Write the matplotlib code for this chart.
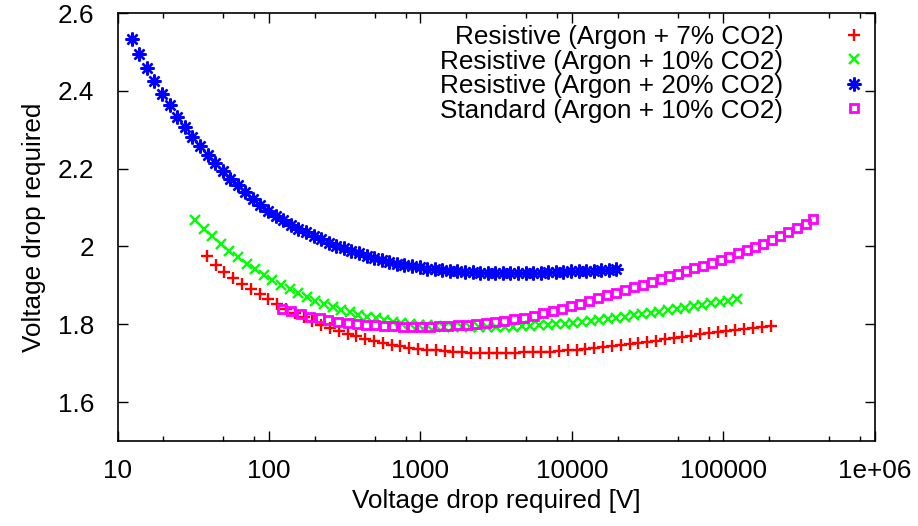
import matplotlib
matplotlib.use("Agg")
import matplotlib.pyplot as plt
from matplotlib.ticker import FixedLocator, FixedFormatter, NullFormatter

plt.rcParams['font.family'] = ['Liberation Sans', 'DejaVu Sans']
plt.rcParams['font.size'] = 18.8

# Resistive (Argon + 7% CO2)
res7_x = [38.8, 44.4, 50.7, 58.0, 66.3, 75.8, 86.6, 99.0, 113.2, 129.4,
          148.0, 169.2, 193.4, 221.1, 252.8, 289.0, 330.5, 377.8, 432.0, 493.9,
          564.7, 645.6, 738.1, 843.9, 964.8, 1103, 1261, 1442, 1649, 1885,
          2155, 2464, 2817, 3221, 3682, 4210, 4813, 5503, 6292, 7193,
          8224, 9403, 10750, 12290, 14050, 16070, 18370, 21000, 24010, 27450,
          31390, 35890, 41030, 46910, 53630, 61320, 70110, 80150, 91640, 104800,
          119800, 137000, 156600, 179000, 204700]
res7_y = [1.975, 1.953, 1.935, 1.919, 1.904, 1.890, 1.877, 1.864, 1.851, 1.839,
          1.828, 1.818, 1.808, 1.799, 1.791, 1.783, 1.776, 1.769, 1.763, 1.758,
          1.753, 1.748, 1.744, 1.740, 1.737, 1.735, 1.733, 1.731, 1.729, 1.728,
          1.727, 1.727, 1.727, 1.727, 1.727, 1.727, 1.728, 1.728, 1.729, 1.730,
          1.731, 1.733, 1.734, 1.736, 1.738, 1.741, 1.743, 1.746, 1.749, 1.752,
          1.755, 1.758, 1.761, 1.764, 1.767, 1.771, 1.774, 1.777, 1.780, 1.783,
          1.786, 1.789, 1.791, 1.793, 1.796]

# Resistive (Argon + 10% CO2)
res10_x = [32.5, 37.0, 42.2, 48.1, 54.8, 62.5, 71.2, 81.2, 92.5, 105.5,
           120.0, 136.8, 155.9, 177.7, 202.6, 230.9, 263.2, 300.0, 341.9, 389.7,
           443.6, 505.6, 576.3, 656.9, 748.7, 853.4, 972.7, 1109, 1264, 1440,
           1640, 1869, 2131, 2429, 2768, 3155, 3597, 4099, 4673, 5326,
           6061, 6909, 7875, 8976, 10230, 11660, 13290, 15150, 17270, 19680,
           22390, 25520, 29090, 33160, 37800, 43080, 49100, 55970, 63800, 72720,
           82750, 94320, 107500, 122500]
res10_y = [2.068, 2.046, 2.026, 2.007, 1.989, 1.972, 1.956, 1.941, 1.927, 1.914,
           1.902, 1.891, 1.880, 1.870, 1.861, 1.852, 1.844, 1.837, 1.831, 1.825,
           1.820, 1.815, 1.811, 1.807, 1.804, 1.801, 1.799, 1.797, 1.795, 1.794,
           1.793, 1.793, 1.792, 1.792, 1.792, 1.793, 1.793, 1.794, 1.795, 1.796,
           1.797, 1.799, 1.800, 1.802, 1.804, 1.806, 1.809, 1.811, 1.814, 1.817,
           1.820, 1.823, 1.826, 1.829, 1.832, 1.836, 1.839, 1.843, 1.846, 1.850,
           1.854, 1.857, 1.861, 1.865]

# Resistive (Argon + 20% CO2)
res20_x = [12.4, 13.9, 15.6, 17.5, 19.7, 22.1, 24.8, 27.8, 31.2, 35.0,
           39.3, 44.1, 49.4, 55.5, 62.2, 69.8, 78.3, 87.9, 98.6, 111,
           124, 139, 156, 175, 197, 221, 248, 278, 312, 350,
           393, 441, 494, 555, 622, 698, 783, 879, 986, 1107,
           1242, 1393, 1563, 1754, 1968, 2208, 2477, 2780, 3119, 3499,
           3926, 4406, 4943, 5546, 6223, 6982, 7834, 8790, 9863, 11070,
           12420, 13930, 15630, 17540, 19680]
res20_y = [2.533, 2.496, 2.459, 2.426, 2.393, 2.363, 2.333, 2.307, 2.281, 2.258,
           2.234, 2.214, 2.194, 2.174, 2.157, 2.140, 2.123, 2.106, 2.092, 2.079,
           2.067, 2.056, 2.046, 2.036, 2.027, 2.018, 2.010, 2.002, 1.995, 1.988,
           1.982, 1.976, 1.970, 1.965, 1.960, 1.956, 1.952, 1.949, 1.946, 1.943,
           1.941, 1.939, 1.937, 1.936, 1.935, 1.934, 1.933, 1.933, 1.932, 1.932,
           1.932, 1.932, 1.932, 1.933, 1.933, 1.934, 1.934, 1.935, 1.936, 1.936,
           1.937, 1.938, 1.939, 1.940, 1.941]

# Standard (Argon + 10% CO2)
std10_x = [122.4, 139.7, 162.6, 186.5, 217.0, 246.2, 286.7, 330.8, 379.3, 434.9,
           500.8, 576.8, 661.6, 762.9, 875.0, 1003, 1155, 1325, 1526, 1760,
           2018, 2324, 2694, 3102, 3573, 4160, 4843, 5638, 6466, 7458,
           8551, 9804, 11290, 12950, 14910, 17100, 19520, 22380, 25780, 29560,
           33580, 38510, 43690, 49860, 56560, 64180, 73580, 83590, 95830, 109200,
           125200, 142300, 161400, 183100, 210000, 236000, 267700, 307000, 348800, 391500]
std10_y = [1.840, 1.833, 1.826, 1.820, 1.815, 1.811, 1.807, 1.804, 1.801, 1.799,
           1.797, 1.796, 1.795, 1.794, 1.794, 1.794, 1.794, 1.795, 1.796, 1.797,
           1.799, 1.801, 1.803, 1.806, 1.809, 1.813, 1.817, 1.822, 1.828, 1.834,
           1.840, 1.847, 1.853, 1.860, 1.867, 1.874, 1.881, 1.888, 1.895, 1.902,
           1.909, 1.916, 1.923, 1.930, 1.937, 1.944, 1.951, 1.958, 1.966, 1.974,
           1.982, 1.990, 1.998, 2.006, 2.017, 2.026, 2.036, 2.047, 2.058, 2.070]

labels = ["Resistive (Argon + 7% CO2)", "Resistive (Argon + 10% CO2)",
          "Resistive (Argon + 20% CO2)", "Standard (Argon + 10% CO2)"]

x_ticks = [10, 100, 1000, 10000, 100000, 1000000]
x_tick_labels = ["10", "100", "1000", "10000", "100000", "1e+06"]
x_minor = [20, 50, 80, 200, 500, 800, 2000, 5000, 8000,
           20000, 50000, 80000, 200000, 500000, 800000]
y_ticks = [1.6, 1.8, 2.0, 2.2, 2.4, 2.6]
y_tick_labels = ["1.6", "1.8", "2", "2.2", "2.4", "2.6"]

fig = plt.figure(figsize=(9.18, 5.26), dpi=100)
ax = fig.add_axes([0.128, 0.1616, 0.825, 0.8136])

ax.plot(res7_x, res7_y, ls='none', marker='+', color='#ff0000', ms=8.5, mew=1.7, label=labels[0])
ax.plot(res10_x, res10_y, ls='none', marker='x', color='#00ff00', ms=7, mew=1.7, label=labels[1])
ax.plot(res20_x, res20_y, ls='none', marker=(8, 2, 0), color='#0000ff', ms=10, mew=1.7, label=labels[2])
ax.plot(std10_x, std10_y, ls='none', marker='s', mfc='none', mec='#ff00ff', ms=5.8, mew=2.0, label=labels[3])

ax.set_xscale('log')
ax.set_xlim(10, 1e6)
ax.set_ylim(1.5, 2.6)
ax.xaxis.set_major_locator(FixedLocator(x_ticks))
ax.xaxis.set_major_formatter(FixedFormatter(x_tick_labels))
ax.xaxis.set_minor_locator(FixedLocator(x_minor))
ax.xaxis.set_minor_formatter(NullFormatter())
ax.yaxis.set_major_locator(FixedLocator(y_ticks))
ax.yaxis.set_major_formatter(FixedFormatter(y_tick_labels))

ax.tick_params(which='both', direction='in', top=True, right=True, width=1.0)
ax.tick_params(which='major', length=7)
ax.tick_params(which='minor', length=3.5)
ax.tick_params(axis='y', pad=17)
ax.tick_params(axis='x', pad=13)
for s in ax.spines.values():
    s.set_linewidth(1.2)

ax.set_xlabel("Voltage drop required [V]", labelpad=4)
ax.set_ylabel("Voltage drop required", labelpad=8)

leg = ax.legend(loc='upper right', bbox_to_anchor=(880 / 918, 1 - 25 / 526),
                bbox_transform=fig.transFigure, frameon=False, markerfirst=False,
                numpoints=1, handlelength=2.0, handletextpad=1.7, labelspacing=0.02,
                borderpad=0, borderaxespad=0)

fig.savefig("out.png", dpi=100)
